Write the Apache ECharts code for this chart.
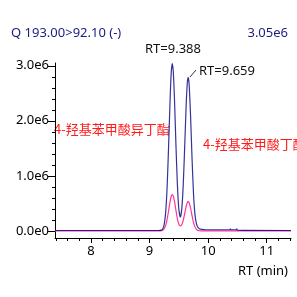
<!DOCTYPE html>
<html>
<head>
<meta charset="utf-8">
<script src="https://cdn.jsdelivr.net/npm/echarts@6/dist/echarts.min.js"></script>
<style>html,body{margin:0;padding:0;background:#fff}#c{width:297px;height:297px}</style>
</head>
<body>
<div id="c"></div>
<script>
// Retention time (min)
const rtTimes = [7.385, 9.15, 9.2, 9.225, 9.25, 9.275, 9.3, 9.325, 9.35, 9.37, 9.388, 9.405, 9.425, 9.45, 9.475, 9.5, 9.525, 9.55, 9.575, 9.6, 9.625, 9.645, 9.659, 9.675, 9.7, 9.725, 9.75, 9.775, 9.8, 9.825, 9.85, 9.875, 9.9, 9.95, 10.0, 10.37, 10.38, 10.39, 10.48, 10.49, 10.5, 11.415];
// Intensity (x1e6), blue trace
const blueIntensity = [0.006, 0.006, 0.012, 0.032, 0.116, 0.34, 0.806, 1.54, 2.37, 2.88, 3.04, 2.89, 2.40, 1.57, 0.84, 0.39, 0.25, 0.40, 0.84, 1.54, 2.29, 2.70, 2.79, 2.67, 2.09, 1.32, 0.68, 0.30, 0.13, 0.065, 0.04, 0.03, 0.025, 0.02, 0.02, 0.02, 0.035, 0.02, 0.02, 0.035, 0.012, 0.006];
// Intensity (x1e6), pink trace
const pinkIntensity = [0, 0, 0.003, 0.013, 0.039, 0.099, 0.209, 0.366, 0.532, 0.629, 0.66, 0.632, 0.54, 0.374, 0.218, 0.12, 0.09, 0.11, 0.19, 0.316, 0.446, 0.515, 0.53, 0.51, 0.413, 0.277, 0.155, 0.072, 0.028, 0.009, 0.002, 0, 0, 0, 0, 0, 0, 0, 0, 0, 0, 0];
const xTicks = [8, 9, 10, 11];
const xMinorTicks = [7.4, 7.6, 7.8, 8, 8.2, 8.4, 8.6, 8.8, 9, 9.2, 9.4, 9.6, 9.8, 10, 10.2, 10.4, 10.6, 10.8, 11, 11.2, 11.4];
const yTicks = [0, 1, 2, 3];
const yTickLabels = ['0.0e0', '1.0e6', '2.0e6', '3.0e6'];
const yMinorTicks = [0, 0.2, 0.4, 0.6, 0.8, 1, 1.2, 1.4, 1.6, 1.8, 2, 2.2, 2.4, 2.6, 2.8, 3];
const titleText = 'Q 193.00>92.10 (-)';
const maxText = '3.05e6';
const peak1Label = 'RT=9.388';
const peak2Label = 'RT=9.659';
const compound1 = '4-羟基苯甲酸异丁酯';
const compound2 = '4-羟基苯甲酸丁酯';
const xAxisTitle = 'RT (min)';

const FONT = '"Noto Sans", "Noto Sans CJK SC", sans-serif';
const CJK = '"Noto Sans CJK SC", "Noto Sans", sans-serif';
const chart = echarts.init(document.getElementById('c'), null, {renderer: 'canvas'});
const pair = (xs, ys) => xs.map((x, i) => [x, ys[i]]);
const xMin = 7.385, xMax = 11.415, yMin = -0.13, yMax = 3.05;
const baseX = {
  type: 'value', min: xMin, max: xMax, position: 'bottom',
  splitLine: {show: false}
};
const baseY = {
  type: 'value', min: yMin, max: yMax, position: 'left',
  splitLine: {show: false}
};
chart.setOption({
  animation: false,
  backgroundColor: '#fff',
  grid: {left: 55, right: 6, top: 63, bottom: 59, containLabel: false},
  xAxis: [
    Object.assign({}, baseX, {
      axisLine: {onZero: false, lineStyle: {color: '#000', width: 1}},
      axisTick: {show: true, length: 5, customValues: xTicks, lineStyle: {color: '#000'}},
      axisLabel: {customValues: xTicks, color: '#000', fontSize: 13, fontFamily: FONT, margin: 7}
    }),
    Object.assign({}, baseX, {
      axisLine: {show: false, onZero: false},
      axisTick: {show: true, length: 3, customValues: xMinorTicks, lineStyle: {color: '#000'}},
      axisLabel: {show: false}
    })
  ],
  yAxis: [
    Object.assign({}, baseY, {
      axisLine: {onZero: false, lineStyle: {color: '#000', width: 1}},
      axisTick: {show: true, length: 7, customValues: yTicks, lineStyle: {color: '#000'}},
      axisLabel: {customValues: yTicks, color: '#000', fontSize: 13, fontFamily: FONT, margin: 6,
        formatter: v => yTickLabels[yTicks.indexOf(Math.round(v))]}
    }),
    Object.assign({}, baseY, {
      axisLine: {show: false, onZero: false},
      axisTick: {show: true, length: 3, customValues: yMinorTicks, lineStyle: {color: '#000'}},
      axisLabel: {show: false}
    })
  ],
  series: [
    {type: 'line', xAxisIndex: 0, yAxisIndex: 0, data: pair(rtTimes, pinkIntensity), showSymbol: false, smooth: 0.2,
      lineStyle: {color: '#ff3399', width: 1.2}, z: 3},
    {type: 'line', xAxisIndex: 0, yAxisIndex: 0, data: pair(rtTimes, blueIntensity), showSymbol: false, smooth: 0.2,
      lineStyle: {color: '#000080', width: 1.2, opacity: 0.8}, z: 4}
  ],
  graphic: [
    {type: 'text', x: 11, y: 33, z: 10, style: {text: titleText, fill: '#1c1c80', font: '13px ' + FONT, verticalAlign: 'middle'}},
    {type: 'text', x: 288, y: 33, z: 10, style: {text: maxText, fill: '#1c1c80', font: '13px ' + FONT, align: 'right', verticalAlign: 'middle'}},
    {type: 'text', x: 145, y: 49, z: 10, style: {text: peak1Label, fill: '#111', font: '13px ' + FONT, verticalAlign: 'middle'}},
    {type: 'text', x: 199, y: 71, z: 10, style: {text: peak2Label, fill: '#111', font: '13px ' + FONT, verticalAlign: 'middle'}},
    {type: 'line', z: 10, shape: {x1: 190, y1: 77, x2: 196, y2: 70}, style: {stroke: '#333', lineWidth: 1}},
    {type: 'text', x: 54, y: 129, z: 0, style: {text: compound1, fill: '#ff1a1a', font: '13px ' + CJK, verticalAlign: 'middle'}},
    {type: 'text', x: 203, y: 144, z: 0, style: {text: compound2, fill: '#ff1a1a', font: '13px ' + CJK, verticalAlign: 'middle'}},
    {type: 'text', x: 288, y: 271, z: 10, style: {text: xAxisTitle, fill: '#000', font: '13px ' + FONT, align: 'right', verticalAlign: 'middle'}}
  ]
});
</script>
</body>
</html>
